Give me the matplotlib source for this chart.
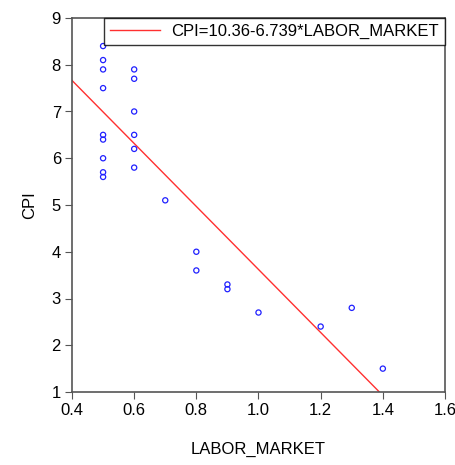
import matplotlib
matplotlib.use("Agg")
import matplotlib.pyplot as plt
import numpy as np

plt.rcParams['font.family'] = ['Liberation Sans', 'DejaVu Sans']

labor_market = [0.5, 0.5, 0.5, 0.5, 0.5, 0.5, 0.5, 0.5, 0.5,
                0.6, 0.6, 0.6, 0.6, 0.6, 0.6,
                0.7, 0.8, 0.8, 0.9, 0.9, 1.0, 1.2, 1.3, 1.4]
cpi = [8.4, 8.1, 7.9, 7.5, 6.5, 6.4, 6.0, 5.7, 5.6,
       7.9, 7.7, 7.0, 6.5, 6.2, 5.8,
       5.1, 4.0, 3.6, 3.3, 3.2, 2.7, 2.4, 2.8, 1.5]
intercept = 10.36
slope = -6.739
x_ticks = [0.4, 0.6, 0.8, 1.0, 1.2, 1.4, 1.6]
y_ticks = [1, 2, 3, 4, 5, 6, 7, 8, 9]

fig = plt.figure(figsize=(4.56, 4.65), dpi=100)
ax = fig.add_axes([72/456, 1-392/465, (445-72)/456, (392-18)/465])

ax.scatter(labor_market, cpi, s=14, facecolors='none', edgecolors='#2020ff', linewidths=0.9, zorder=3)
xl = np.linspace(0.4, 1.6, 200)
ax.plot(xl, intercept + slope*xl, color='#ff3030', lw=1.0,
        label='CPI=10.36-6.739*LABOR_MARKET')

ax.set_xlim(0.4, 1.6)
ax.set_ylim(1, 9)
ax.set_xticks(x_ticks)
ax.set_xticklabels(['%.1f' % v for v in x_ticks])
ax.set_yticks(y_ticks)
for s in ax.spines.values():
    s.set_color('#555555')
    s.set_linewidth(1.2)
ax.tick_params(direction='out', length=5, color='#555555', labelsize=12, pad=3)
ax.set_xlabel('LABOR_MARKET', fontsize=12, labelpad=17)
ax.set_ylabel('CPI', fontsize=12, labelpad=10)

leg = ax.legend(loc='upper right', fontsize=12, frameon=True, fancybox=False,
                borderaxespad=0, handlelength=3.0, borderpad=0.35, handletextpad=0.7)
leg.get_frame().set_edgecolor('black')
leg.get_frame().set_linewidth(1.0)

fig.savefig('out.png', dpi=100)
